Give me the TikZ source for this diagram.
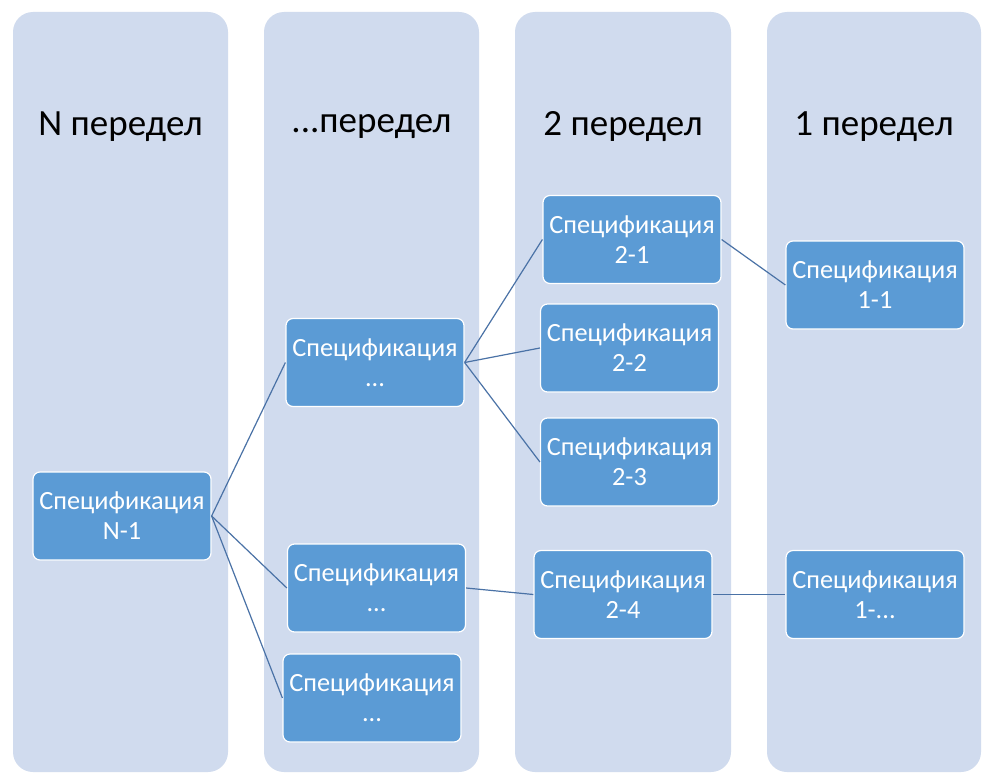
\documentclass[tikz,border=0pt]{standalone}
\usepackage{fontspec}
\setmainfont{Carlito}
\definecolor{colbg}{HTML}{D0DBEE}
\definecolor{boxfill}{HTML}{5B9BD5}
\definecolor{linkc}{HTML}{4A72A6}
\begin{document}
\begin{tikzpicture}[x=1pt,y=-1pt,
  column/.style={fill=colbg,rounded corners=20pt},
  coltitle/.style={font=\fontsize{37}{40}\selectfont,text=black,anchor=center},
  spec/.style={draw=white,line width=1.2pt,fill=boxfill,rounded corners=7pt,
    text=white,align=center,font=\fontsize{26.3}{30}\selectfont,
    minimum width=178pt,minimum height=88pt,inner sep=0pt},
  link/.style={draw=linkc,line width=1.2pt}]
\useasboundingbox[fill=white] (0,0) rectangle (995,781);
% columns
\fill[column] (13,12) rectangle (228,772);
\fill[column] (264,12) rectangle (479,772);
\fill[column] (515,12) rectangle (731,772);
\fill[column] (767,12) rectangle (981,772);
% titles
\node[coltitle] (t1) at (120.5,126.5) {N передел};
\node[coltitle] (t2) at (371.5,126.5) {...передел};
\node[coltitle] (t3) at (623,126.5) {2 передел};
\node[coltitle] (t4) at (874,126.5) {1 передел};
% boxes
\node[spec] (n1) at (122,516) {Спецификация\\N-1};
\node[spec] (da) at (375,362.5) {Спецификация\\...};
\node[spec] (db) at (376.5,588) {Спецификация\\...};
\node[spec] (dc) at (372,698) {Спецификация\\...};
\node[spec] (s21) at (632,239.5) {Спецификация\\2-1};
\node[spec] (s22) at (629.5,348) {Спецификация\\2-2};
\node[spec] (s23) at (629.5,462) {Спецификация\\2-3};
\node[spec] (s24) at (623,594.5) {Спецификация\\2-4};
\node[spec] (s11) at (875,285) {Спецификация\\1-1};
\node[spec] (s1x) at (875,594.5) {Спецификация\\1-...};
% connectors
\draw[link] (n1.east) -- (da.west);
\draw[link] (n1.east) -- (db.west);
\draw[link] (n1.east) -- (dc.west);
\draw[link] (da.east) -- (s21.west);
\draw[link] (da.east) -- (s22.west);
\draw[link] (da.east) -- (s23.west);
\draw[link] (db.east) -- (s24.west);
\draw[link] (s21.east) -- (s11.west);
\draw[link] (s24.east) -- (s1x.west);
\end{tikzpicture}
\end{document}
